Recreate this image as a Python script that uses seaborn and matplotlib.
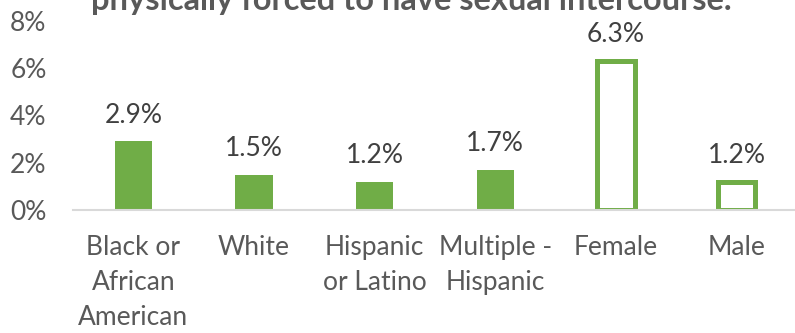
import matplotlib
matplotlib.use("Agg")
import matplotlib.pyplot as plt
import seaborn as sns
import pandas as pd
from matplotlib.ticker import FuncFormatter

categories = ["Black or\nAfrican\nAmerican", "White", "Hispanic\nor Latino",
              "Multiple -\nHispanic", "Female", "Male"]
values = [2.9, 1.5, 1.2, 1.7, 6.3, 1.2]
value_labels = ["2.9%", "1.5%", "1.2%", "1.7%", "6.3%", "1.2%"]
hollow = [False, False, False, False, True, True]
y_ticks = [0, 2, 4, 6, 8]
title = "physically forced to have sexual intercourse."

GREEN = "#70AD47"
TXT = "#595959"
VAL = "#404040"

sns.set_theme(style="white")
plt.rcParams["font.family"] = ["Lato", "DejaVu Sans"]

df = pd.DataFrame({"cat": categories, "val": values})

fig = plt.figure(figsize=(7.95, 3.33), dpi=100)
ax = fig.add_axes([0.0918, 0.3694, 0.9107, 0.5676])

sns.barplot(data=df, x="cat", y="val", color=GREEN, saturation=1,
            width=0.31, ax=ax, order=categories)

for patch, h in zip(ax.patches, hollow):
    patch.set_edgecolor("none")
    if h:
        patch.set_facecolor("white")
        patch.set_edgecolor(GREEN)
        patch.set_linewidth(3.6)

ax.bar_label(ax.containers[0], labels=value_labels, padding=10,
             fontsize=19, color=VAL)

ax.set_xlim(-0.5, 5.5)
ax.set_ylim(0, 8)
ax.set_yticks(y_ticks)
ax.yaxis.set_major_formatter(FuncFormatter(lambda v, p: f"{v:.0f}%"))
ax.set_xlabel("")
ax.set_ylabel("")
ax.tick_params(axis="y", length=0, pad=19, labelsize=19, labelcolor=TXT)
ax.tick_params(axis="x", length=0, pad=18, labelsize=19, labelcolor=TXT)
for lbl in ax.get_xticklabels():
    lbl.set_linespacing(1.5)

for s in ["top", "left", "right"]:
    ax.spines[s].set_visible(False)
ax.spines["bottom"].set_color("#D9D9D9")
ax.spines["bottom"].set_linewidth(1.5)
ax.grid(False)

fig.text(411 / 795, (333 - 10) / 333, title, ha="center", va="baseline",
         fontsize=23.5, fontweight="bold", color=TXT)

fig.savefig("out.png", dpi=100)
